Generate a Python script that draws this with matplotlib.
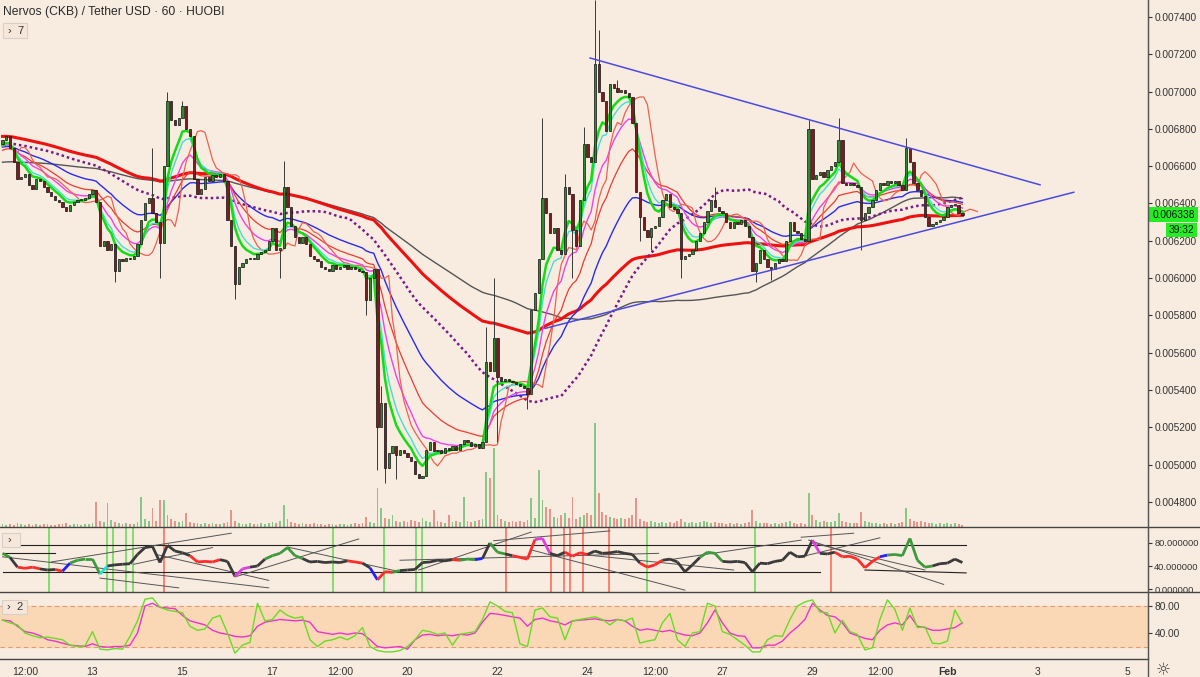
import numpy as np
import pandas as pd
import matplotlib
matplotlib.use('Agg')
import matplotlib.pyplot as plt
from matplotlib.collections import LineCollection
from matplotlib.patches import Rectangle
from matplotlib.lines import Line2D

BG = '#f8ece1'
TXT = '#333333'
plt.rcParams['font.family'] = ['Liberation Sans', 'DejaVu Sans']

# ---- price data: 2h candles from Jan 11 00:00, values in 1e-3 USDT ----
d11 = [6.74, 6.76, 6.70, 6.62, 6.53, 6.54, 6.56, 6.50, 6.48, 6.53, 6.52, 6.49]
d12 = [6.46, 6.44, 6.42, 6.41, 6.38, 6.36, 6.39, 6.41, 6.42, 6.42, 6.43, 6.45]
d13 = [6.47, 6.41, 6.17, 6.20, 6.15, 6.18, 6.04, 6.10, 6.09, 6.11, 6.10, 6.12]
d14 = [6.18, 6.31, 6.40, 6.43, 6.35, 6.30, 6.19, 6.60, 6.95, 6.85, 6.82, 6.86]
d15 = [6.92, 6.80, 6.76, 6.53, 6.45, 6.48, 6.54, 6.52, 6.55, 6.54, 6.56, 6.52]
d16 = [6.31, 6.17, 5.97, 6.06, 6.08, 6.10, 6.11, 6.10, 6.13, 6.14, 6.15, 6.20]
d17 = [6.27, 6.15, 6.16, 6.49, 6.38, 6.28, 6.22, 6.19, 6.22, 6.18, 6.12, 6.10]
d18 = [6.09, 6.06, 6.05, 6.04, 6.07, 6.05, 6.06, 6.07, 6.05, 6.06, 6.05, 6.04]
d19 = [6.03, 5.88, 6.00, 6.05, 5.20, 5.33, 4.98, 5.06, 5.10, 5.05, 5.08, 5.06]
d20 = [5.04, 5.02, 4.95, 4.93, 4.94, 5.08, 5.12, 5.07, 5.08, 5.06, 5.09, 5.08]
d21 = [5.10, 5.08, 5.11, 5.13, 5.12, 5.10, 5.11, 5.09, 5.12, 5.55, 5.50, 5.68]
d22 = [5.47, 5.45, 5.46, 5.45, 5.44, 5.43, 5.42, 5.41, 5.38, 5.83, 5.92, 6.10]
d23 = [6.43, 6.35, 6.24, 6.27, 6.15, 6.13, 6.49, 6.45, 6.26, 6.17, 6.42, 6.72]
d24 = [6.65, 6.62, 7.15, 7.00, 6.95, 6.79, 7.04, 7.02, 7.00, 7.01, 6.99, 6.97]
d25 = [6.83, 6.46, 6.33, 6.26, 6.22, 6.27, 6.28, 6.33, 6.42, 6.45, 6.38, 6.37]
d26 = [6.35, 6.10, 6.12, 6.13, 6.15, 6.20, 6.24, 6.30, 6.36, 6.42, 6.38, 6.36]
d27 = [6.35, 6.30, 6.27, 6.30, 6.29, 6.31, 6.28, 6.22, 6.04, 6.08, 6.15, 6.10]
d28 = [6.06, 6.05, 6.08, 6.10, 6.09, 6.20, 6.30, 6.25, 6.24, 6.21, 6.20, 6.80]
d29 = [6.53, 6.55, 6.57, 6.54, 6.58, 6.60, 6.62, 6.74, 6.51, 6.50, 6.51, 6.50]
d30 = [6.49, 6.31, 6.35, 6.38, 6.42, 6.47, 6.51, 6.50, 6.52, 6.51, 6.52, 6.50]
d31 = [6.47, 6.70, 6.62, 6.51, 6.47, 6.44, 6.33, 6.28, 6.29, 6.30, 6.31, 6.33]
f01 = [6.38, 6.39, 6.39, 6.35, 6.338]
closes = (d11 + d12 + d13 + d14 + d15 + d16 + d17 + d18 + d19 + d20 + d21
          + d22 + d23 + d24 + d25 + d26 + d27 + d28 + d29 + d30 + d31 + f01)
first_open = 6.72

# visible wicks (candle index -> price)
wick_high = {40: 6.70, 44: 7.00, 48: 6.95, 75: 6.63, 101: 5.42, 129: 5.74,
             131: 6.00, 144: 6.86, 150: 6.56, 155: 6.81, 158: 7.49, 159: 7.33,
             164: 7.06, 190: 6.49, 215: 6.85, 223: 6.86, 241: 6.75}
wick_low = {30: 5.98, 42: 6.00, 62: 5.89, 74: 6.00, 97: 5.80, 100: 4.97,
            102: 4.90, 105: 4.92, 132: 5.12, 140: 5.30, 152: 6.00, 170: 6.20,
            173: 6.15, 181: 6.00, 201: 5.98, 205: 5.99, 229: 6.15}

# volume (relative units)
volume = [3, 2, 3, 2, 4, 3, 2, 3, 2, 3, 2, 3,
          3, 2, 2, 3, 3, 4, 2, 3, 3, 2, 3, 3,
          4, 25, 6, 5, 24, 7, 5, 4, 3, 4, 3, 3,
          5, 30, 8, 6, 19, 6, 27, 27, 12, 8, 6, 5,
          6, 14, 5, 4, 4, 3, 4, 3, 4, 3, 3, 4,
          5, 17, 6, 4, 3, 3, 4, 3, 3, 4, 3, 4,
          5, 4, 6, 22, 8, 5, 4, 3, 4, 3, 3, 4,
          3, 3, 2, 3, 3, 2, 3, 3, 2, 3, 4, 3,
          4, 10, 5, 4, 39, 19, 9, 8, 12, 6, 5, 6,
          5, 7, 6, 5, 9, 6, 5, 17, 6, 5, 4, 12,
          5, 6, 5, 30, 6, 5, 6, 7, 8, 55, 49, 79,
          12, 8, 6, 5, 6, 5, 6, 5, 7, 29, 9, 57,
          27, 20, 18, 10, 9, 12, 14, 9, 30, 8, 10, 12,
          14, 12, 104, 34, 15, 12, 10, 9, 8, 9, 8, 9,
          12, 29, 8, 6, 5, 6, 5, 4, 5, 4, 5, 4,
          6, 8, 5, 4, 5, 4, 5, 6, 5, 4, 5, 4,
          4, 3, 4, 3, 4, 3, 4, 5, 17, 6, 4, 4,
          4, 3, 4, 3, 4, 5, 6, 4, 3, 4, 3, 34,
          12, 7, 5, 6, 5, 5, 6, 14, 6, 5, 4, 4,
          4, 15, 6, 5, 4, 4, 3, 4, 3, 4, 3, 4,
          5, 19, 8, 6, 5, 6, 5, 4, 4, 3, 4, 3,
          4, 3, 4, 3, 2]

# moving averages: (kind, length in 2h bars, starting value, shift, color, width, style)
ma_specs = [
    ('sma', 100, 6.62, 0, '#555555', 1.0, '-'),
    ('ema', 100, 6.76, 0, '#ee1111', 2.2, '-'),
    ('sma', 50, 6.72, 0, '#7a1a8a', 1.8, (0, (1, 1.2))),
    ('ema', 36, 6.70, 0, '#2a2aee', 1.0, '-'),
    ('ema', 21, 6.68, 0, '#f03a30', 0.9, '-'),
    ('ema', 13, 6.70, 0, '#f040f0', 1.0, '-'),
    ('ema', 6, 6.65, 4, '#f06050', 0.9, '-'),
    ('ema', 8, 6.70, 0, '#40e0d0', 1.0, '-'),
    ('ema', 6, 6.70, 0, '#11dd11', 1.8, '-'),
]

# triangle (candle index, price)
tri_upper = [(156.7, 7.18), (276.7, 6.50)]
tri_lower = [(144.7, 5.73), (285.7, 6.46)]

# ---- panel 2 oscillator, every 4h ----
osc = [62, 55, 38, 36, 38, 35, 33, 34, 31, 45, 50, 52, 52, 26, 40, 42, 43, 44, 60, 72,
       74, 46, 76, 66, 63, 58, 47, 48, 47, 51, 48, 22, 35, 38, 40, 52, 58, 62, 72, 58,
       53, 47, 48, 46, 47, 46, 49, 47, 45, 37, 16, 30, 29, 32, 33, 34, 46, 47, 50, 49,
       51, 50, 52, 51, 53, 80, 64, 61, 58, 55, 52, 86, 88, 62, 58, 64, 57, 63, 60, 66,
       62, 63, 65, 62, 60, 45, 38, 42, 50, 52, 47, 30, 42, 55, 64, 62, 48, 47, 48, 46,
       30, 45, 44, 48, 50, 64, 56, 57, 85, 62, 61, 64, 56, 57, 52, 37, 48, 56, 59, 60,
       58, 88, 50, 38, 40, 44, 45, 52, 46]
osc_state = ("gkrrrkkrbggggc" + "kkkkkkkkkkk" + "rrrr" + "kk" + "mm" + "kk" + "ggggg"
             + "kkkkkk" + "rr" + "k" + "b" + "rr" + "g" + "kkkkkkk" + "rggbkggk" + "rrr"
             + "mm" + "kk" + "rrr" + "kkkkkkk" + "rrr" + "kkkkk" + "ggg" + "kkkkkkkkkkkk"
             + "m" + "kk" + "rrrrrr" + "b" + "gggggg" + "kkkkk")
osc_lines = [(0, 76, 257, 76), (0, 30, 218, 30), (230, 33, 257, 28), (0, 62, 14, 62),
             (0, 56, 71, 2), (13, 47, 61, 97), (26, 19, 47, 2), (35, 43, 56, 72),
             (41, 60, 71, 15), (62, 21, 95, 87), (76, 73, 106, 30), (106, 50, 175, 62),
             (111, 33, 141, 99), (131, 84, 162, 101), (141, 68, 182, -2), (156, 59, 195, 33),
             (177, 50, 213, 85), (213, 90, 227, 97), (213, 56, 234, 89), (215, 85, 251, 8),
             (216, 80, 246, 33)]
buy_marks = [12.4, 27.9, 29.5, 33.0, 34.8, 88.1, 101.7, 110.3, 111.9, 171.9, 200.7]
sell_marks = [43.1, 134.3, 146.3, 149.7, 151.3, 154.8, 161.7, 220.9]

# ---- panel 3, every 4h ----
k_line = [59, 55, 52, 40, 36, 33, 34, 32, 30, 22, 20, 21, 42, 16, 15, 17, 16, 35, 58, 90,
          92, 78, 74, 72, 70, 50, 44, 46, 62, 66, 40, 10, 22, 26, 84, 58, 60, 74, 66, 62,
          64, 30, 20, 28, 30, 34, 30, 36, 48, 20, 14, 12, 12, 14, 20, 30, 44, 42, 38, 40,
          22, 38, 40, 42, 60, 86, 80, 72, 70, 24, 20, 74, 77, 64, 62, 30, 58, 60, 62, 64,
          60, 52, 60, 58, 62, 25, 28, 30, 55, 69, 30, 20, 40, 42, 84, 80, 42, 38, 30, 22,
          12, 12, 30, 36, 35, 60, 80, 86, 89, 71, 70, 40, 59, 42, 38, 15, 18, 60, 89, 75,
          44, 77, 48, 49, 25, 24, 28, 74, 54]
d_line = [59, 58, 50, 42, 40, 36, 30, 28, 25, 22, 21, 20, 24, 20, 19, 20, 20, 22, 40, 80,
          84, 78, 77, 76, 66, 58, 55, 52, 44, 40, 38, 35, 34, 36, 50, 56, 58, 60, 59, 58,
          59, 56, 42, 40, 38, 40, 38, 40, 39, 30, 20, 18, 19, 20, 16, 30, 37, 38, 36, 37,
          36, 38, 37, 40, 56, 69, 68, 66, 64, 62, 50, 60, 62, 58, 56, 52, 58, 59, 60, 61,
          59, 58, 60, 58, 50, 44, 46, 44, 42, 44, 40, 37, 36, 40, 55, 74, 55, 40, 36, 35,
          18, 18, 22, 22, 28, 40, 49, 60, 84, 74, 66, 64, 55, 40, 36, 32, 30, 44, 52, 55,
          52, 66, 50, 48, 44, 44, 46, 48, 55]

tick_pos = [6, 24, 48, 72, 90, 108, 132, 156, 174, 192, 216, 234, 252, 276, 300]
tick_txt = ['12:00', '13', '15', '17', '12:00', '20', '22', '24', '12:00', '27', '29',
            '12:00', 'Feb', '3', '5']

# ---- figure ----
W, H = 1200, 677
fig = plt.figure(figsize=(12, 6.77), dpi=100, facecolor=BG)
XL = (-0.667, 305.5)


def rect(top, bottom, right=1148):
    return [0, 1 - bottom / H, right / W, (bottom - top) / H]


vax = fig.add_axes(rect(0, 527), zorder=0)
ax = fig.add_axes(rect(0, 527), zorder=1)
ax2 = fig.add_axes(rect(527, 592))
ax3 = fig.add_axes(rect(592, 659))

for a in (ax, ax2, ax3):
    a.set_xlim(*XL)
    a.set_facecolor(BG)
    for s in ('left', 'top', 'bottom'):
        a.spines[s].set_visible(False)
    a.spines['right'].set_color('#555555')
    a.yaxis.tick_right()
    a.tick_params(axis='y', direction='out', length=3, pad=2, labelsize=7.3,
                  colors=TXT, width=0.8)
    a.set_xticks([])
ax.patch.set_alpha(0)
ax2.tick_params(axis='y', labelsize=6.7, pad=1.5)

c = np.array(closes)
idx = np.arange(len(c))
o = np.r_[first_open, c[:-1]]
up = c >= o

# volume
vax.set_xlim(*XL)
vax.set_ylim(0, 527)
vax.bar(idx, volume, width=0.5,
        color=np.where(up, '#7cc47c', '#e88a80'), alpha=0.9)
vax.axis('off')


def ema(span, seed):
    a = 2 / (span + 1)
    out, prev = [], seed
    for v in c:
        prev = a * v + (1 - a) * prev
        out.append(prev)
    return np.array(out)


def sma(n, seed):
    s = pd.Series(np.r_[np.full(n - 1, seed), c]).rolling(n).mean()
    return s.dropna().values


for kind, n, seed, shift, col, lw, ls in ma_specs:
    vals = ema(n, seed) if kind == 'ema' else sma(n, seed)
    ax.plot(idx + shift, vals, color=col, lw=lw, ls=ls, zorder=2)

# candles
hi = np.maximum(o, c)
lo = np.minimum(o, c)
for k, v in wick_high.items():
    hi[k] = max(hi[k], v)
for k, v in wick_low.items():
    lo[k] = min(lo[k], v)
ax.vlines(idx, lo, hi, color='#3a3a3a', lw=0.7, zorder=3)
body_h = np.maximum(np.abs(c - o), 0.006)
ax.bar(idx, body_h, bottom=np.minimum(o, c), width=0.62,
       color=np.where(up, '#2f8a2f', '#7e1d1d'), edgecolor='#111111',
       linewidth=0.5, zorder=4)

for line in (tri_upper, tri_lower):
    ax.plot([line[0][0], line[1][0]], [line[0][1], line[1][1]],
            color='#4a4ae0', lw=1.1, zorder=5)

ax.set_ylim(4.665, 7.491)
yt = np.arange(4.8, 7.41, 0.2)
ax.set_yticks(yt)
ax.set_yticklabels([f'{v / 1000:.6f}' for v in yt])

# panel 2
xs = np.arange(len(osc)) * 2
cmap = {'k': '#3a3a3a', 'g': '#3c9a3c', 'r': '#ff2a2a', 'm': '#e03be0',
        'b': '#2222ff', 'c': '#22dddd'}
for xm in buy_marks:
    ax2.axvline(xm, color='#77dd66', lw=1.3, zorder=1)
for xm in sell_marks:
    ax2.axvline(xm, color='#ff7766', lw=1.3, zorder=1)
for k, (x0, v0, x1, v1) in enumerate(osc_lines):
    ax2.plot([x0, x1], [v0, v1], color='#222222' if k < 4 else '#555555',
             lw=0.8 if k < 4 else 0.7, zorder=2)
segs = [[(xs[k], osc[k]), (xs[k + 1], osc[k + 1])] for k in range(len(osc) - 1)]
ax2.add_collection(LineCollection(segs, colors=[cmap[s] for s in osc_state[:-1]],
                                  linewidths=2.0, zorder=3))
ax2.set_ylim(-5.2, 107.8)
ax2.set_yticks([0, 40, 80])
ax2.set_yticklabels(['0.000000', '40.000000', '80.000000'])

# panel 3
ax3.axhspan(20, 80, color='#fad8b6', zorder=0)
for lvl in (20, 80):
    ax3.axhline(lvl, color='#e09a78', lw=0.8, ls=(0, (4, 3)), zorder=1)
ax3.plot(xs, d_line, color='#ee33cc', lw=1.0, zorder=2)
ax3.plot(xs, k_line, color='#66dd22', lw=1.0, zorder=3)
ax3.set_ylim(1.5, 100.7)
ax3.set_yticks([40, 80])
ax3.set_yticklabels(['40.00', '80.00'])
ax3.set_xticks(tick_pos)
ax3.set_xticklabels(tick_txt)
ax3.tick_params(axis='x', length=0, pad=6, labelsize=7.5, colors=TXT)
for t in ax3.get_xticklabels():
    if t.get_text() == 'Feb':
        t.set_fontweight('bold')

# separators and axis line
for y, x1 in ((527, 1200), (592, 1200), (659, 1148)):
    fig.add_artist(Line2D([0, x1 / W], [1 - y / H, 1 - y / H], color='#444444', lw=1.0))
fig.add_artist(Line2D([1148 / W, 1148 / W], [0, 1], color='#555555', lw=1.0))

# labels
fig.text(3 / W, 1 - 12 / H, 'Nervos (CKB) / Tether USD · 60 · HUOBI', fontsize=8.7,
         color='#2a2a2a', va='center', ha='left')
for (x, y, w, h, s) in ((3, 23, 24, 15, '›  7'), (2, 533, 18, 14, '›'), (2, 600, 25, 14, '›  2')):
    fig.add_artist(Rectangle((x / W, 1 - (y + h) / H), w / W, h / H, transform=fig.transFigure,
                             facecolor='#f6e7da', edgecolor='#d8d0c8', lw=0.8))
    fig.text((x + 5) / W, 1 - (y + h / 2) / H, s, fontsize=8, color='#333333',
             va='center', ha='left')

fig.add_artist(Rectangle((1148 / W, 1 - 222 / H), 50 / W, 15 / H, transform=fig.transFigure,
                         facecolor='#22ee22', edgecolor='none'))
fig.text(1153 / W, 1 - 214.5 / H, '0.006338', fontsize=7.3, color='#111111', va='center')
fig.add_artist(Rectangle((1166 / W, 1 - 237 / H), 31 / W, 14 / H, transform=fig.transFigure,
                         facecolor='#22ee22', edgecolor='none'))
fig.text(1181.5 / W, 1 - 230 / H, '39:32', fontsize=7.3, color='#111111', va='center',
         ha='center')
fig.text(1163 / W, 1 - 670 / H, '☼', fontsize=12, color='#444444', va='center',
         ha='center', family='DejaVu Sans')

fig.savefig('out.png', dpi=100, facecolor=BG)
